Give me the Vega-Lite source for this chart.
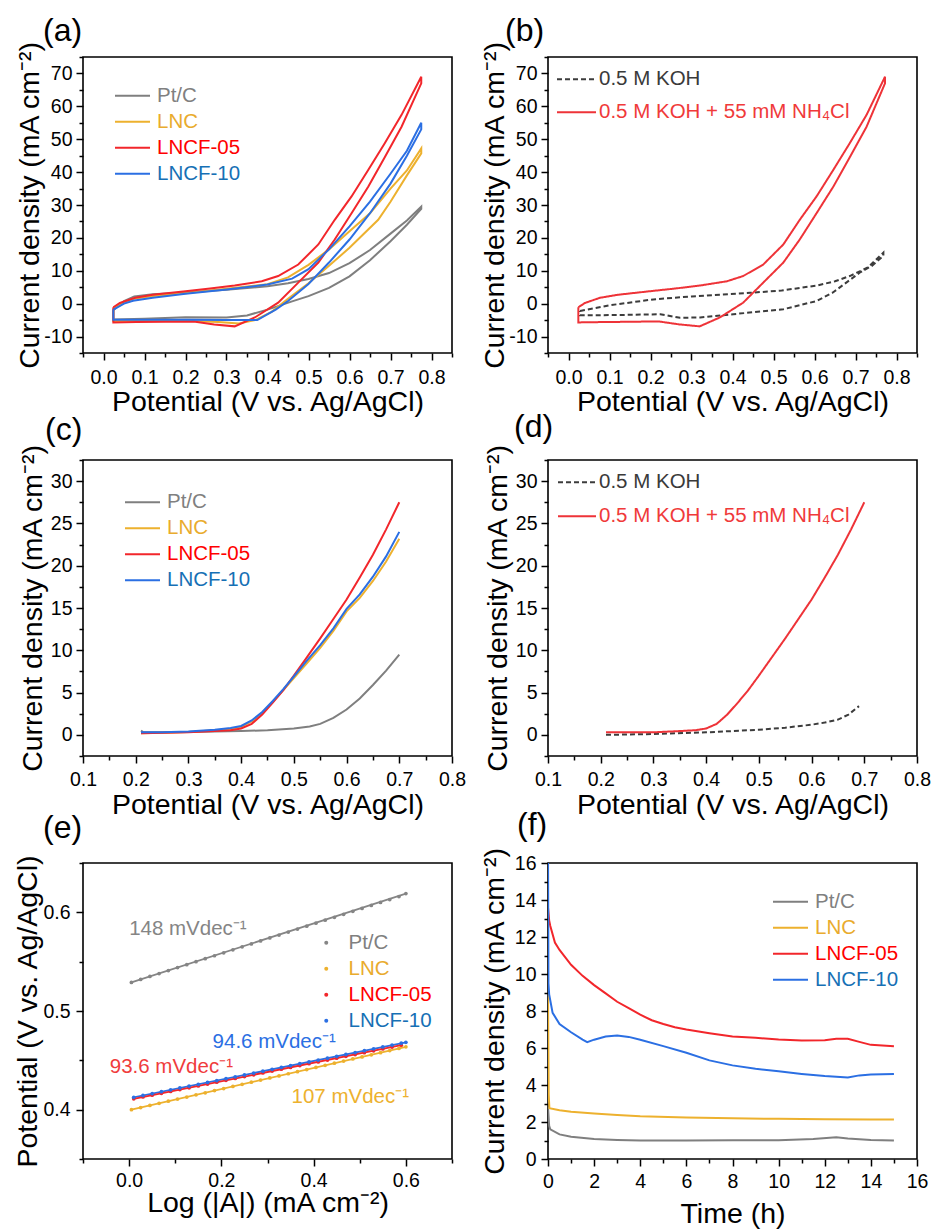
{
  "$schema": "https://vega.github.io/schema/vega-lite/v6.json",
  "autosize": {"type": "none"},
  "padding": {"left": 83, "top": 57, "right": 850, "bottom": 1175},
  "background": "white",
  "config": {
    "font": "Liberation Sans",
    "view": {"stroke": "black", "strokeWidth": 1.6},
    "axis": {"domain": false, "grid": false, "labelFont": "Liberation Sans", "labelFontSize": 19.5, "labelColor": "black", "titleFont": "Liberation Sans", "titleFontSize": 28.5, "titleFontWeight": "normal", "titleColor": "black", "tickColor": "black", "tickWidth": 1.5, "labelFlush": false, "labelOverlap": false, "labelBound": false},
    "axisX": {"labelBaseline": "alphabetic", "titleBaseline": "alphabetic"},
    "axisY": {"titleBaseline": "alphabetic"},
    "legend": {"labelFont": "Liberation Sans", "labelFontSize": 20.5, "padding": 0, "labelLimit": 400, "symbolStrokeWidth": 2, "orient": "none", "titlePadding": 0},
    "title": {"font": "Liberation Sans", "fontSize": 32, "fontWeight": "normal", "anchor": "start", "frame": "group", "baseline": "alphabetic", "color": "black"},
    "line": {"strokeWidth": 2}
  },
  "datasets": {
    "cvA": [
      {"s":"Pt/C","i":0,"x":0.024,"y":-2.0},{"s":"Pt/C","i":1,"x":0.05,"y":0.8},{"s":"Pt/C","i":2,"x":0.075,"y":2.2},{"s":"Pt/C","i":3,"x":0.12,"y":2.9},{"s":"Pt/C","i":4,"x":0.2,"y":3.4},{"s":"Pt/C","i":5,"x":0.3,"y":4.2},{"s":"Pt/C","i":6,"x":0.4,"y":5.3},{"s":"Pt/C","i":7,"x":0.45,"y":6.2},{"s":"Pt/C","i":8,"x":0.5,"y":7.5},{"s":"Pt/C","i":9,"x":0.55,"y":9.3},{"s":"Pt/C","i":10,"x":0.6,"y":12.3},{"s":"Pt/C","i":11,"x":0.65,"y":16.3},{"s":"Pt/C","i":12,"x":0.7,"y":21.3},{"s":"Pt/C","i":13,"x":0.74,"y":25.3},{"s":"Pt/C","i":14,"x":0.775,"y":29.5},
      {"s":"Pt/C","i":15,"x":0.775,"y":28.8},{"s":"Pt/C","i":16,"x":0.74,"y":24.0},{"s":"Pt/C","i":17,"x":0.7,"y":19.0},{"s":"Pt/C","i":18,"x":0.65,"y":13.2},{"s":"Pt/C","i":19,"x":0.6,"y":8.3},{"s":"Pt/C","i":20,"x":0.55,"y":4.8},{"s":"Pt/C","i":21,"x":0.5,"y":2.3},{"s":"Pt/C","i":22,"x":0.46,"y":0.7},{"s":"Pt/C","i":23,"x":0.4,"y":-1.8},{"s":"Pt/C","i":24,"x":0.35,"y":-3.6},{"s":"Pt/C","i":25,"x":0.3,"y":-4.2},{"s":"Pt/C","i":26,"x":0.2,"y":-4.1},{"s":"Pt/C","i":27,"x":0.1,"y":-4.6},{"s":"Pt/C","i":28,"x":0.024,"y":-4.8},{"s":"Pt/C","i":29,"x":0.024,"y":-2.0},
      {"s":"LNC","i":0,"x":0.024,"y":-1.5},{"s":"LNC","i":1,"x":0.05,"y":0.5},{"s":"LNC","i":2,"x":0.075,"y":1.5},{"s":"LNC","i":3,"x":0.12,"y":2.3},{"s":"LNC","i":4,"x":0.2,"y":3.2},{"s":"LNC","i":5,"x":0.3,"y":4.5},{"s":"LNC","i":6,"x":0.4,"y":5.9},{"s":"LNC","i":7,"x":0.45,"y":8.0},{"s":"LNC","i":8,"x":0.5,"y":11.8},{"s":"LNC","i":9,"x":0.55,"y":16.5},{"s":"LNC","i":10,"x":0.6,"y":22.0},{"s":"LNC","i":11,"x":0.65,"y":27.5},{"s":"LNC","i":12,"x":0.7,"y":35.0},{"s":"LNC","i":13,"x":0.74,"y":40.5},{"s":"LNC","i":14,"x":0.775,"y":47.2},
      {"s":"LNC","i":15,"x":0.775,"y":45.7},{"s":"LNC","i":16,"x":0.74,"y":39.0},{"s":"LNC","i":17,"x":0.7,"y":31.0},{"s":"LNC","i":18,"x":0.67,"y":25.5},{"s":"LNC","i":19,"x":0.6,"y":17.0},{"s":"LNC","i":20,"x":0.55,"y":11.5},{"s":"LNC","i":21,"x":0.5,"y":6.2},{"s":"LNC","i":22,"x":0.45,"y":1.5},{"s":"LNC","i":23,"x":0.41,"y":-2.5},{"s":"LNC","i":24,"x":0.37,"y":-5.0},{"s":"LNC","i":25,"x":0.33,"y":-6.0},{"s":"LNC","i":26,"x":0.28,"y":-5.6},{"s":"LNC","i":27,"x":0.2,"y":-5.2},{"s":"LNC","i":28,"x":0.1,"y":-5.2},{"s":"LNC","i":29,"x":0.024,"y":-5.3},{"s":"LNC","i":30,"x":0.024,"y":-1.5},
      {"s":"LNCF-05","i":0,"x":0.024,"y":-1.1},{"s":"LNCF-05","i":1,"x":0.04,"y":0.2},{"s":"LNCF-05","i":2,"x":0.077,"y":1.8},{"s":"LNCF-05","i":3,"x":0.12,"y":2.7},{"s":"LNCF-05","i":4,"x":0.2,"y":3.8},{"s":"LNCF-05","i":5,"x":0.26,"y":4.6},{"s":"LNCF-05","i":6,"x":0.32,"y":5.5},{"s":"LNCF-05","i":7,"x":0.386,"y":6.8},{"s":"LNCF-05","i":8,"x":0.426,"y":8.4},{"s":"LNCF-05","i":9,"x":0.475,"y":11.9},{"s":"LNCF-05","i":10,"x":0.524,"y":18.0},{"s":"LNCF-05","i":11,"x":0.564,"y":25.5},{"s":"LNCF-05","i":12,"x":0.605,"y":32.6},{"s":"LNCF-05","i":13,"x":0.646,"y":40.7},{"s":"LNCF-05","i":14,"x":0.686,"y":48.8},{"s":"LNCF-05","i":15,"x":0.727,"y":57.4},{"s":"LNCF-05","i":16,"x":0.775,"y":69.0},
      {"s":"LNCF-05","i":17,"x":0.775,"y":67.0},{"s":"LNCF-05","i":18,"x":0.727,"y":53.8},{"s":"LNCF-05","i":19,"x":0.686,"y":44.5},{"s":"LNCF-05","i":20,"x":0.646,"y":35.6},{"s":"LNCF-05","i":21,"x":0.605,"y":27.5},{"s":"LNCF-05","i":22,"x":0.564,"y":19.5},{"s":"LNCF-05","i":23,"x":0.524,"y":12.5},{"s":"LNCF-05","i":24,"x":0.475,"y":6.4},{"s":"LNCF-05","i":25,"x":0.426,"y":0.3},{"s":"LNCF-05","i":26,"x":0.369,"y":-4.2},{"s":"LNCF-05","i":27,"x":0.32,"y":-6.9},{"s":"LNCF-05","i":28,"x":0.27,"y":-6.3},{"s":"LNCF-05","i":29,"x":0.22,"y":-5.4},{"s":"LNCF-05","i":30,"x":0.15,"y":-5.5},{"s":"LNCF-05","i":31,"x":0.08,"y":-5.6},{"s":"LNCF-05","i":32,"x":0.024,"y":-5.7},{"s":"LNCF-05","i":33,"x":0.024,"y":-1.1},
      {"s":"LNCF-10","i":0,"x":0.024,"y":-1.8},{"s":"LNCF-10","i":1,"x":0.05,"y":0.0},{"s":"LNCF-10","i":2,"x":0.072,"y":0.9},{"s":"LNCF-10","i":3,"x":0.12,"y":1.8},{"s":"LNCF-10","i":4,"x":0.2,"y":3.0},{"s":"LNCF-10","i":5,"x":0.3,"y":4.3},{"s":"LNCF-10","i":6,"x":0.4,"y":5.8},{"s":"LNCF-10","i":7,"x":0.46,"y":7.6},{"s":"LNCF-10","i":8,"x":0.5,"y":10.5},{"s":"LNCF-10","i":9,"x":0.55,"y":16.5},{"s":"LNCF-10","i":10,"x":0.6,"y":23.5},{"s":"LNCF-10","i":11,"x":0.65,"y":31.0},{"s":"LNCF-10","i":12,"x":0.7,"y":39.5},{"s":"LNCF-10","i":13,"x":0.74,"y":46.5},{"s":"LNCF-10","i":14,"x":0.775,"y":55.0},
      {"s":"LNCF-10","i":15,"x":0.775,"y":53.0},{"s":"LNCF-10","i":16,"x":0.74,"y":45.0},{"s":"LNCF-10","i":17,"x":0.7,"y":36.5},{"s":"LNCF-10","i":18,"x":0.65,"y":27.5},{"s":"LNCF-10","i":19,"x":0.6,"y":19.5},{"s":"LNCF-10","i":20,"x":0.55,"y":12.5},{"s":"LNCF-10","i":21,"x":0.5,"y":6.0},{"s":"LNCF-10","i":22,"x":0.45,"y":0.8},{"s":"LNCF-10","i":23,"x":0.42,"y":-1.8},{"s":"LNCF-10","i":24,"x":0.375,"y":-5.0},{"s":"LNCF-10","i":25,"x":0.3,"y":-5.0},{"s":"LNCF-10","i":26,"x":0.2,"y":-4.9},{"s":"LNCF-10","i":27,"x":0.1,"y":-4.9},{"s":"LNCF-10","i":28,"x":0.024,"y":-4.9},{"s":"LNCF-10","i":29,"x":0.024,"y":-1.8}
    ],
    "cvB": [
      {"s":"0.5 M KOH","i":0,"x":0.028,"y":-2.2},{"s":"0.5 M KOH","i":1,"x":0.1,"y":-0.5},{"s":"0.5 M KOH","i":2,"x":0.207,"y":1.3},{"s":"0.5 M KOH","i":3,"x":0.3,"y":2.2},{"s":"0.5 M KOH","i":4,"x":0.443,"y":3.3},{"s":"0.5 M KOH","i":5,"x":0.52,"y":4.0},{"s":"0.5 M KOH","i":6,"x":0.605,"y":5.5},{"s":"0.5 M KOH","i":7,"x":0.65,"y":6.8},{"s":"0.5 M KOH","i":8,"x":0.686,"y":8.4},{"s":"0.5 M KOH","i":9,"x":0.73,"y":11.0},{"s":"0.5 M KOH","i":10,"x":0.768,"y":15.5},
      {"s":"0.5 M KOH","i":11,"x":0.768,"y":14.5},{"s":"0.5 M KOH","i":12,"x":0.74,"y":11.5},{"s":"0.5 M KOH","i":13,"x":0.71,"y":9.4},{"s":"0.5 M KOH","i":14,"x":0.645,"y":3.4},{"s":"0.5 M KOH","i":15,"x":0.605,"y":0.8},{"s":"0.5 M KOH","i":16,"x":0.524,"y":-1.7},{"s":"0.5 M KOH","i":17,"x":0.402,"y":-3.2},{"s":"0.5 M KOH","i":18,"x":0.321,"y":-4.2},{"s":"0.5 M KOH","i":19,"x":0.272,"y":-4.3},{"s":"0.5 M KOH","i":20,"x":0.224,"y":-3.2},{"s":"0.5 M KOH","i":21,"x":0.15,"y":-3.4},{"s":"0.5 M KOH","i":22,"x":0.077,"y":-3.5},{"s":"0.5 M KOH","i":23,"x":0.028,"y":-3.5},{"s":"0.5 M KOH","i":24,"x":0.028,"y":-2.2},
      {"s":"0.5 M KOH + 55 mM NH₄Cl","i":0,"x":0.024,"y":-1.1},{"s":"0.5 M KOH + 55 mM NH₄Cl","i":1,"x":0.04,"y":0.2},{"s":"0.5 M KOH + 55 mM NH₄Cl","i":2,"x":0.077,"y":1.8},{"s":"0.5 M KOH + 55 mM NH₄Cl","i":3,"x":0.12,"y":2.7},{"s":"0.5 M KOH + 55 mM NH₄Cl","i":4,"x":0.2,"y":3.8},{"s":"0.5 M KOH + 55 mM NH₄Cl","i":5,"x":0.26,"y":4.6},{"s":"0.5 M KOH + 55 mM NH₄Cl","i":6,"x":0.32,"y":5.5},{"s":"0.5 M KOH + 55 mM NH₄Cl","i":7,"x":0.386,"y":6.8},{"s":"0.5 M KOH + 55 mM NH₄Cl","i":8,"x":0.426,"y":8.4},{"s":"0.5 M KOH + 55 mM NH₄Cl","i":9,"x":0.475,"y":11.9},{"s":"0.5 M KOH + 55 mM NH₄Cl","i":10,"x":0.524,"y":18.0},{"s":"0.5 M KOH + 55 mM NH₄Cl","i":11,"x":0.564,"y":25.5},{"s":"0.5 M KOH + 55 mM NH₄Cl","i":12,"x":0.605,"y":32.6},{"s":"0.5 M KOH + 55 mM NH₄Cl","i":13,"x":0.646,"y":40.7},{"s":"0.5 M KOH + 55 mM NH₄Cl","i":14,"x":0.686,"y":48.8},{"s":"0.5 M KOH + 55 mM NH₄Cl","i":15,"x":0.727,"y":57.4},{"s":"0.5 M KOH + 55 mM NH₄Cl","i":16,"x":0.772,"y":69.0},
      {"s":"0.5 M KOH + 55 mM NH₄Cl","i":17,"x":0.772,"y":67.0},{"s":"0.5 M KOH + 55 mM NH₄Cl","i":18,"x":0.727,"y":53.8},{"s":"0.5 M KOH + 55 mM NH₄Cl","i":19,"x":0.686,"y":44.5},{"s":"0.5 M KOH + 55 mM NH₄Cl","i":20,"x":0.646,"y":35.6},{"s":"0.5 M KOH + 55 mM NH₄Cl","i":21,"x":0.605,"y":27.5},{"s":"0.5 M KOH + 55 mM NH₄Cl","i":22,"x":0.564,"y":19.5},{"s":"0.5 M KOH + 55 mM NH₄Cl","i":23,"x":0.524,"y":12.5},{"s":"0.5 M KOH + 55 mM NH₄Cl","i":24,"x":0.475,"y":6.4},{"s":"0.5 M KOH + 55 mM NH₄Cl","i":25,"x":0.426,"y":0.3},{"s":"0.5 M KOH + 55 mM NH₄Cl","i":26,"x":0.369,"y":-4.2},{"s":"0.5 M KOH + 55 mM NH₄Cl","i":27,"x":0.32,"y":-6.9},{"s":"0.5 M KOH + 55 mM NH₄Cl","i":28,"x":0.27,"y":-6.3},{"s":"0.5 M KOH + 55 mM NH₄Cl","i":29,"x":0.22,"y":-5.4},{"s":"0.5 M KOH + 55 mM NH₄Cl","i":30,"x":0.15,"y":-5.5},{"s":"0.5 M KOH + 55 mM NH₄Cl","i":31,"x":0.08,"y":-5.6},{"s":"0.5 M KOH + 55 mM NH₄Cl","i":32,"x":0.024,"y":-5.7},{"s":"0.5 M KOH + 55 mM NH₄Cl","i":33,"x":0.024,"y":-1.1}
    ],
    "lsvC": [
      {"s":"Pt/C","x":0.21,"y":0.5},{"s":"Pt/C","x":0.215,"y":0.3},{"s":"Pt/C","x":0.25,"y":0.3},{"s":"Pt/C","x":0.3,"y":0.35},{"s":"Pt/C","x":0.35,"y":0.4},{"s":"Pt/C","x":0.4,"y":0.45},{"s":"Pt/C","x":0.45,"y":0.55},{"s":"Pt/C","x":0.5,"y":0.75},{"s":"Pt/C","x":0.53,"y":1.0},{"s":"Pt/C","x":0.55,"y":1.3},{"s":"Pt/C","x":0.575,"y":2.0},{"s":"Pt/C","x":0.6,"y":3.0},{"s":"Pt/C","x":0.625,"y":4.3},{"s":"Pt/C","x":0.65,"y":5.9},{"s":"Pt/C","x":0.675,"y":7.6},{"s":"Pt/C","x":0.7,"y":9.5},
      {"s":"LNC","x":0.21,"y":0.2},{"s":"LNC","x":0.25,"y":0.25},{"s":"LNC","x":0.3,"y":0.35},{"s":"LNC","x":0.35,"y":0.55},{"s":"LNC","x":0.38,"y":0.7},{"s":"LNC","x":0.4,"y":0.95},{"s":"LNC","x":0.42,"y":1.6},{"s":"LNC","x":0.44,"y":2.6},{"s":"LNC","x":0.46,"y":3.9},{"s":"LNC","x":0.48,"y":5.3},{"s":"LNC","x":0.5,"y":6.7},{"s":"LNC","x":0.525,"y":8.5},{"s":"LNC","x":0.55,"y":10.3},{"s":"LNC","x":0.575,"y":12.3},{"s":"LNC","x":0.6,"y":14.6},{"s":"LNC","x":0.625,"y":16.2},{"s":"LNC","x":0.65,"y":18.2},{"s":"LNC","x":0.675,"y":20.5},{"s":"LNC","x":0.7,"y":23.2},
      {"s":"LNCF-05","x":0.21,"y":0.2},{"s":"LNCF-05","x":0.3,"y":0.3},{"s":"LNCF-05","x":0.35,"y":0.45},{"s":"LNCF-05","x":0.38,"y":0.55},{"s":"LNCF-05","x":0.4,"y":0.75},{"s":"LNCF-05","x":0.42,"y":1.3},{"s":"LNCF-05","x":0.44,"y":2.4},{"s":"LNCF-05","x":0.46,"y":3.8},{"s":"LNCF-05","x":0.48,"y":5.3},{"s":"LNCF-05","x":0.5,"y":7.0},{"s":"LNCF-05","x":0.525,"y":9.2},{"s":"LNCF-05","x":0.55,"y":11.4},{"s":"LNCF-05","x":0.575,"y":13.7},{"s":"LNCF-05","x":0.6,"y":16.0},{"s":"LNCF-05","x":0.625,"y":18.6},{"s":"LNCF-05","x":0.65,"y":21.3},{"s":"LNCF-05","x":0.675,"y":24.3},{"s":"LNCF-05","x":0.7,"y":27.5},
      {"s":"LNCF-10","x":0.21,"y":0.3},{"s":"LNCF-10","x":0.25,"y":0.3},{"s":"LNCF-10","x":0.3,"y":0.4},{"s":"LNCF-10","x":0.35,"y":0.6},{"s":"LNCF-10","x":0.38,"y":0.8},{"s":"LNCF-10","x":0.4,"y":1.05},{"s":"LNCF-10","x":0.42,"y":1.7},{"s":"LNCF-10","x":0.44,"y":2.7},{"s":"LNCF-10","x":0.46,"y":4.0},{"s":"LNCF-10","x":0.48,"y":5.4},{"s":"LNCF-10","x":0.5,"y":6.9},{"s":"LNCF-10","x":0.525,"y":8.8},{"s":"LNCF-10","x":0.55,"y":10.6},{"s":"LNCF-10","x":0.575,"y":12.6},{"s":"LNCF-10","x":0.6,"y":14.9},{"s":"LNCF-10","x":0.625,"y":16.6},{"s":"LNCF-10","x":0.65,"y":18.7},{"s":"LNCF-10","x":0.675,"y":21.1},{"s":"LNCF-10","x":0.7,"y":24.0}
    ],
    "lsvD": [
      {"s":"0.5 M KOH","x":0.21,"y":0.0},{"s":"0.5 M KOH","x":0.3,"y":0.1},{"s":"0.5 M KOH","x":0.4,"y":0.3},{"s":"0.5 M KOH","x":0.45,"y":0.45},{"s":"0.5 M KOH","x":0.5,"y":0.6},{"s":"0.5 M KOH","x":0.55,"y":0.85},{"s":"0.5 M KOH","x":0.6,"y":1.2},{"s":"0.5 M KOH","x":0.625,"y":1.45},{"s":"0.5 M KOH","x":0.65,"y":1.8},{"s":"0.5 M KOH","x":0.67,"y":2.4},{"s":"0.5 M KOH","x":0.69,"y":3.4},
      {"s":"0.5 M KOH + 55 mM NH₄Cl","x":0.21,"y":0.3},{"s":"0.5 M KOH + 55 mM NH₄Cl","x":0.3,"y":0.3},{"s":"0.5 M KOH + 55 mM NH₄Cl","x":0.35,"y":0.45},{"s":"0.5 M KOH + 55 mM NH₄Cl","x":0.38,"y":0.55},{"s":"0.5 M KOH + 55 mM NH₄Cl","x":0.4,"y":0.75},{"s":"0.5 M KOH + 55 mM NH₄Cl","x":0.42,"y":1.3},{"s":"0.5 M KOH + 55 mM NH₄Cl","x":0.44,"y":2.4},{"s":"0.5 M KOH + 55 mM NH₄Cl","x":0.46,"y":3.8},{"s":"0.5 M KOH + 55 mM NH₄Cl","x":0.48,"y":5.3},{"s":"0.5 M KOH + 55 mM NH₄Cl","x":0.5,"y":7.0},{"s":"0.5 M KOH + 55 mM NH₄Cl","x":0.525,"y":9.2},{"s":"0.5 M KOH + 55 mM NH₄Cl","x":0.55,"y":11.4},{"s":"0.5 M KOH + 55 mM NH₄Cl","x":0.575,"y":13.7},{"s":"0.5 M KOH + 55 mM NH₄Cl","x":0.6,"y":16.0},{"s":"0.5 M KOH + 55 mM NH₄Cl","x":0.625,"y":18.6},{"s":"0.5 M KOH + 55 mM NH₄Cl","x":0.65,"y":21.3},{"s":"0.5 M KOH + 55 mM NH₄Cl","x":0.675,"y":24.3},{"s":"0.5 M KOH + 55 mM NH₄Cl","x":0.7,"y":27.5}
    ],
    "tafelFit": [
      {"s":"Pt/C","x":0.005,"y":0.529},{"s":"Pt/C","x":0.6,"y":0.619},
      {"s":"LNC","x":0.005,"y":0.400},{"s":"LNC","x":0.6,"y":0.4637},
      {"s":"LNCF-10","x":0.01,"y":0.4125},{"s":"LNCF-10","x":0.6,"y":0.4683},
      {"s":"LNCF-05","x":0.01,"y":0.411},{"s":"LNCF-05","x":0.59,"y":0.4653}
    ],
    "tafelPts": [
      {"s":"Pt/C","x":0.005,"y":0.529},{"s":"Pt/C","x":0.025,"y":0.532},{"s":"Pt/C","x":0.045,"y":0.535},{"s":"Pt/C","x":0.065,"y":0.538},{"s":"Pt/C","x":0.085,"y":0.541},{"s":"Pt/C","x":0.105,"y":0.544},{"s":"Pt/C","x":0.125,"y":0.547},{"s":"Pt/C","x":0.145,"y":0.550},{"s":"Pt/C","x":0.165,"y":0.553},{"s":"Pt/C","x":0.185,"y":0.556},{"s":"Pt/C","x":0.205,"y":0.559},{"s":"Pt/C","x":0.225,"y":0.562},{"s":"Pt/C","x":0.245,"y":0.565},{"s":"Pt/C","x":0.265,"y":0.568},{"s":"Pt/C","x":0.285,"y":0.571},{"s":"Pt/C","x":0.305,"y":0.574},{"s":"Pt/C","x":0.325,"y":0.577},{"s":"Pt/C","x":0.345,"y":0.580},{"s":"Pt/C","x":0.365,"y":0.583},{"s":"Pt/C","x":0.385,"y":0.586},{"s":"Pt/C","x":0.405,"y":0.589},{"s":"Pt/C","x":0.425,"y":0.592},{"s":"Pt/C","x":0.445,"y":0.595},{"s":"Pt/C","x":0.465,"y":0.598},{"s":"Pt/C","x":0.485,"y":0.601},{"s":"Pt/C","x":0.505,"y":0.604},{"s":"Pt/C","x":0.525,"y":0.607},{"s":"Pt/C","x":0.545,"y":0.610},{"s":"Pt/C","x":0.565,"y":0.613},{"s":"Pt/C","x":0.585,"y":0.616},{"s":"Pt/C","x":0.6,"y":0.619},
      {"s":"LNC","x":0.005,"y":0.4000},{"s":"LNC","x":0.025,"y":0.4021},{"s":"LNC","x":0.045,"y":0.4043},{"s":"LNC","x":0.065,"y":0.4064},{"s":"LNC","x":0.085,"y":0.4086},{"s":"LNC","x":0.105,"y":0.4107},{"s":"LNC","x":0.125,"y":0.4128},{"s":"LNC","x":0.145,"y":0.4150},{"s":"LNC","x":0.165,"y":0.4171},{"s":"LNC","x":0.185,"y":0.4193},{"s":"LNC","x":0.205,"y":0.4214},{"s":"LNC","x":0.225,"y":0.4235},{"s":"LNC","x":0.245,"y":0.4257},{"s":"LNC","x":0.265,"y":0.4278},{"s":"LNC","x":0.285,"y":0.4300},{"s":"LNC","x":0.305,"y":0.4321},{"s":"LNC","x":0.325,"y":0.4342},{"s":"LNC","x":0.345,"y":0.4364},{"s":"LNC","x":0.365,"y":0.4385},{"s":"LNC","x":0.385,"y":0.4407},{"s":"LNC","x":0.405,"y":0.4428},{"s":"LNC","x":0.425,"y":0.4449},{"s":"LNC","x":0.445,"y":0.4471},{"s":"LNC","x":0.465,"y":0.4492},{"s":"LNC","x":0.485,"y":0.4514},{"s":"LNC","x":0.505,"y":0.4535},{"s":"LNC","x":0.525,"y":0.4556},{"s":"LNC","x":0.545,"y":0.4578},{"s":"LNC","x":0.565,"y":0.4599},{"s":"LNC","x":0.585,"y":0.4621},{"s":"LNC","x":0.6,"y":0.4637},
      {"s":"LNCF-05","x":0.01,"y":0.4110},{"s":"LNCF-05","x":0.03,"y":0.4129},{"s":"LNCF-05","x":0.05,"y":0.4147},{"s":"LNCF-05","x":0.07,"y":0.4166},{"s":"LNCF-05","x":0.09,"y":0.4185},{"s":"LNCF-05","x":0.11,"y":0.4204},{"s":"LNCF-05","x":0.13,"y":0.4222},{"s":"LNCF-05","x":0.15,"y":0.4241},{"s":"LNCF-05","x":0.17,"y":0.4260},{"s":"LNCF-05","x":0.19,"y":0.4278},{"s":"LNCF-05","x":0.21,"y":0.4297},{"s":"LNCF-05","x":0.23,"y":0.4316},{"s":"LNCF-05","x":0.25,"y":0.4335},{"s":"LNCF-05","x":0.27,"y":0.4353},{"s":"LNCF-05","x":0.29,"y":0.4372},{"s":"LNCF-05","x":0.31,"y":0.4391},{"s":"LNCF-05","x":0.33,"y":0.4410},{"s":"LNCF-05","x":0.35,"y":0.4428},{"s":"LNCF-05","x":0.37,"y":0.4447},{"s":"LNCF-05","x":0.39,"y":0.4466},{"s":"LNCF-05","x":0.41,"y":0.4484},{"s":"LNCF-05","x":0.43,"y":0.4503},{"s":"LNCF-05","x":0.45,"y":0.4522},{"s":"LNCF-05","x":0.47,"y":0.4541},{"s":"LNCF-05","x":0.49,"y":0.4559},{"s":"LNCF-05","x":0.51,"y":0.4578},{"s":"LNCF-05","x":0.53,"y":0.4597},{"s":"LNCF-05","x":0.55,"y":0.4615},{"s":"LNCF-05","x":0.57,"y":0.4634},{"s":"LNCF-05","x":0.59,"y":0.4653},
      {"s":"LNCF-10","x":0.01,"y":0.4125},{"s":"LNCF-10","x":0.03,"y":0.4144},{"s":"LNCF-10","x":0.05,"y":0.4163},{"s":"LNCF-10","x":0.07,"y":0.4182},{"s":"LNCF-10","x":0.09,"y":0.4201},{"s":"LNCF-10","x":0.11,"y":0.4220},{"s":"LNCF-10","x":0.13,"y":0.4239},{"s":"LNCF-10","x":0.15,"y":0.4257},{"s":"LNCF-10","x":0.17,"y":0.4276},{"s":"LNCF-10","x":0.19,"y":0.4295},{"s":"LNCF-10","x":0.21,"y":0.4314},{"s":"LNCF-10","x":0.23,"y":0.4333},{"s":"LNCF-10","x":0.25,"y":0.4352},{"s":"LNCF-10","x":0.27,"y":0.4371},{"s":"LNCF-10","x":0.29,"y":0.4390},{"s":"LNCF-10","x":0.31,"y":0.4409},{"s":"LNCF-10","x":0.33,"y":0.4428},{"s":"LNCF-10","x":0.35,"y":0.4447},{"s":"LNCF-10","x":0.37,"y":0.4466},{"s":"LNCF-10","x":0.39,"y":0.4484},{"s":"LNCF-10","x":0.41,"y":0.4503},{"s":"LNCF-10","x":0.43,"y":0.4522},{"s":"LNCF-10","x":0.45,"y":0.4541},{"s":"LNCF-10","x":0.47,"y":0.4560},{"s":"LNCF-10","x":0.49,"y":0.4579},{"s":"LNCF-10","x":0.51,"y":0.4598},{"s":"LNCF-10","x":0.53,"y":0.4617},{"s":"LNCF-10","x":0.55,"y":0.4636},{"s":"LNCF-10","x":0.57,"y":0.4655},{"s":"LNCF-10","x":0.59,"y":0.4674},{"s":"LNCF-10","x":0.6,"y":0.4683}
    ],
    "tafelAnn": [
      {"s":"Pt/C","x":0.0,"y":0.5835,"t":"148 mVdec⁻¹"},
      {"s":"LNCF-10","x":0.181,"y":0.4684,"t":"94.6 mVdec⁻¹"},
      {"s":"LNCF-05","x":-0.042,"y":0.4431,"t":"93.6 mVdec⁻¹"},
      {"s":"LNC","x":0.352,"y":0.4128,"t":"107 mVdec⁻¹"}
    ],
    "chronoF": [
      {"s":"Pt/C","x":0,"y":2.8},{"s":"Pt/C","x":0.05,"y":1.8},{"s":"Pt/C","x":0.1,"y":1.6},{"s":"Pt/C","x":0.5,"y":1.33},{"s":"Pt/C","x":1,"y":1.2},{"s":"Pt/C","x":2,"y":1.08},{"s":"Pt/C","x":3,"y":1.03},{"s":"Pt/C","x":4,"y":1.0},{"s":"Pt/C","x":6,"y":1.0},{"s":"Pt/C","x":8,"y":1.02},{"s":"Pt/C","x":10,"y":1.02},{"s":"Pt/C","x":11.5,"y":1.08},{"s":"Pt/C","x":12.5,"y":1.17},{"s":"Pt/C","x":13,"y":1.11},{"s":"Pt/C","x":14,"y":1.03},{"s":"Pt/C","x":15,"y":1.0},
      {"s":"LNC","x":0,"y":9.0},{"s":"LNC","x":0.03,"y":3.5},{"s":"LNC","x":0.06,"y":2.75},{"s":"LNC","x":0.5,"y":2.64},{"s":"LNC","x":1,"y":2.55},{"s":"LNC","x":2,"y":2.46},{"s":"LNC","x":3,"y":2.38},{"s":"LNC","x":4,"y":2.31},{"s":"LNC","x":6,"y":2.24},{"s":"LNC","x":8,"y":2.2},{"s":"LNC","x":10,"y":2.17},{"s":"LNC","x":12,"y":2.15},{"s":"LNC","x":14,"y":2.14},{"s":"LNC","x":15,"y":2.13},
      {"s":"LNCF-05","x":0,"y":13.6},{"s":"LNCF-05","x":0.05,"y":12.9},{"s":"LNCF-05","x":0.1,"y":12.6},{"s":"LNCF-05","x":0.3,"y":11.7},{"s":"LNCF-05","x":0.5,"y":11.3},{"s":"LNCF-05","x":1,"y":10.5},{"s":"LNCF-05","x":1.5,"y":9.9},{"s":"LNCF-05","x":2,"y":9.4},{"s":"LNCF-05","x":2.5,"y":8.95},{"s":"LNCF-05","x":3,"y":8.5},{"s":"LNCF-05","x":3.5,"y":8.15},{"s":"LNCF-05","x":4,"y":7.8},{"s":"LNCF-05","x":4.5,"y":7.5},{"s":"LNCF-05","x":5,"y":7.3},{"s":"LNCF-05","x":5.5,"y":7.12},{"s":"LNCF-05","x":6,"y":7.0},{"s":"LNCF-05","x":7,"y":6.8},{"s":"LNCF-05","x":8,"y":6.62},{"s":"LNCF-05","x":9,"y":6.55},{"s":"LNCF-05","x":10,"y":6.46},{"s":"LNCF-05","x":11,"y":6.4},{"s":"LNCF-05","x":12,"y":6.42},{"s":"LNCF-05","x":12.5,"y":6.5},{"s":"LNCF-05","x":13,"y":6.5},{"s":"LNCF-05","x":13.5,"y":6.33},{"s":"LNCF-05","x":14,"y":6.17},{"s":"LNCF-05","x":15,"y":6.1},
      {"s":"LNCF-10","x":0,"y":17},{"s":"LNCF-10","x":0.02,"y":9.5},{"s":"LNCF-10","x":0.05,"y":8.9},{"s":"LNCF-10","x":0.2,"y":7.9},{"s":"LNCF-10","x":0.5,"y":7.3},{"s":"LNCF-10","x":1,"y":6.85},{"s":"LNCF-10","x":1.5,"y":6.45},{"s":"LNCF-10","x":1.7,"y":6.32},{"s":"LNCF-10","x":2,"y":6.45},{"s":"LNCF-10","x":2.5,"y":6.62},{"s":"LNCF-10","x":3,"y":6.67},{"s":"LNCF-10","x":3.5,"y":6.6},{"s":"LNCF-10","x":4,"y":6.45},{"s":"LNCF-10","x":5,"y":6.1},{"s":"LNCF-10","x":6,"y":5.74},{"s":"LNCF-10","x":7,"y":5.33},{"s":"LNCF-10","x":8,"y":5.06},{"s":"LNCF-10","x":9,"y":4.88},{"s":"LNCF-10","x":10,"y":4.74},{"s":"LNCF-10","x":11,"y":4.6},{"s":"LNCF-10","x":12,"y":4.48},{"s":"LNCF-10","x":13,"y":4.4},{"s":"LNCF-10","x":13.5,"y":4.52},{"s":"LNCF-10","x":14,"y":4.57},{"s":"LNCF-10","x":15,"y":4.6}
    ]
  },
  "columns": 2,
  "spacing": {"row": 107, "column": 96},
  "bounds": "flush",
  "resolve": {"scale": {"color": "independent", "strokeDash": "independent", "x": "independent", "y": "independent"}, "legend": {"color": "independent", "strokeDash": "independent"}},
  "concat": [
    {
      "width": 369, "height": 296,
      "title": {"text": "(a)", "dx": -40, "offset": -7},
      "data": {"name": "cvA"},
      "mark": {"type": "line", "strokeWidth": 2, "clip": true},
      "encoding": {
        "x": {"field": "x", "type": "quantitative", "title": "Potential (V vs. Ag/AgCl)", "scale": {"domain": [-0.05, 0.85], "nice": false, "zero": false},
          "axis": {"values": [-0.05,0,0.05,0.1,0.15,0.2,0.25,0.3,0.35,0.4,0.45,0.5,0.55,0.6,0.65,0.7,0.75,0.8,0.85], "labelExpr": "abs(datum.value*10-round(datum.value*10))<0.001 ? format(datum.value,'.1f') : ''", "tickSize": {"condition": {"test": "abs(datum.value*10-round(datum.value*10))<0.001", "value": 7}, "value": 4}, "labelPadding": 23, "titleY": 57}},
        "y": {"field": "y", "type": "quantitative", "title": "Current density (mA cm⁻²)", "scale": {"domain": [-15, 75], "nice": false, "zero": false},
          "axis": {"values": [-15,-10,-5,0,5,10,15,20,25,30,35,40,45,50,55,60,65,70,75], "labelExpr": "datum.value % 10 == 0 ? '' + datum.value : ''", "tickSize": {"condition": {"test": "datum.value % 10 == 0", "value": 7}, "value": 4}, "labelPadding": 4, "titleX": -45}},
        "color": {"field": "s", "type": "nominal", "scale": {"domain": ["Pt/C", "LNC", "LNCF-05", "LNCF-10"], "range": ["#7F7F7F", "#EDB12E", "#F2262B", "#2B6FE3"]},
          "legend": {"title": null, "legendX": 31, "legendY": 25.9, "symbolSize": 1225, "labelOffset": 6, "rowPadding": 0, "clipHeight": 25.6,
            "labelColor": {"expr": "datum.value == 'Pt/C' ? '#808080' : datum.value == 'LNC' ? '#E9AB2D' : datum.value == 'LNCF-05' ? '#FF0000' : '#1670B5'"}}},
        "order": {"field": "i", "type": "quantitative"}
      }
    },
    {
      "width": 369, "height": 296,
      "title": {"text": "(b)", "dx": -43, "offset": -7},
      "data": {"name": "cvB"},
      "mark": {"type": "line", "strokeWidth": 2, "clip": true},
      "encoding": {
        "x": {"field": "x", "type": "quantitative", "title": "Potential (V vs. Ag/AgCl)", "scale": {"domain": [-0.05, 0.85], "nice": false, "zero": false},
          "axis": {"values": [-0.05,0,0.05,0.1,0.15,0.2,0.25,0.3,0.35,0.4,0.45,0.5,0.55,0.6,0.65,0.7,0.75,0.8,0.85], "labelExpr": "abs(datum.value*10-round(datum.value*10))<0.001 ? format(datum.value,'.1f') : ''", "tickSize": {"condition": {"test": "abs(datum.value*10-round(datum.value*10))<0.001", "value": 7}, "value": 4}, "labelPadding": 23, "titleY": 57}},
        "y": {"field": "y", "type": "quantitative", "title": "Current density (mA cm⁻²)", "scale": {"domain": [-15, 75], "nice": false, "zero": false},
          "axis": {"values": [-15,-10,-5,0,5,10,15,20,25,30,35,40,45,50,55,60,65,70,75], "labelExpr": "datum.value % 10 == 0 ? '' + datum.value : ''", "tickSize": {"condition": {"test": "datum.value % 10 == 0", "value": 7}, "value": 4}, "labelPadding": 4, "titleX": -45}},
        "color": {"field": "s", "type": "nominal", "scale": {"domain": ["0.5 M KOH", "0.5 M KOH + 55 mM NH₄Cl"], "range": ["#3C3C3C", "#EE3338"]},
          "legend": {"title": null, "legendX": 8, "legendY": 5.8, "symbolSize": 1521, "labelOffset": 2, "rowPadding": 0, "clipHeight": 33,
            "labelColor": {"expr": "datum.value == '0.5 M KOH' ? '#3A3A3A' : '#F03A3A'"}}},
        "strokeDash": {"field": "s", "type": "nominal", "scale": {"domain": ["0.5 M KOH", "0.5 M KOH + 55 mM NH₄Cl"], "range": [[5, 3], [1, 0]]},
          "legend": {"title": null, "legendX": 8, "legendY": 5.8, "symbolSize": 1521, "labelOffset": 2, "rowPadding": 0, "clipHeight": 33,
            "labelColor": {"expr": "datum.value == '0.5 M KOH' ? '#3A3A3A' : '#F03A3A'"}}},
        "order": {"field": "i", "type": "quantitative"}
      }
    },
    {
      "width": 369, "height": 296,
      "title": {"text": "(c)", "dx": -38, "offset": -3},
      "data": {"name": "lsvC"},
      "mark": {"type": "line", "strokeWidth": 2, "clip": true},
      "encoding": {
        "x": {"field": "x", "type": "quantitative", "title": "Potential (V vs. Ag/AgCl)", "scale": {"domain": [0.1, 0.8], "nice": false, "zero": false},
          "axis": {"values": [0.1,0.15,0.2,0.25,0.3,0.35,0.4,0.45,0.5,0.55,0.6,0.65,0.7,0.75,0.8], "labelExpr": "abs(datum.value*10-round(datum.value*10))<0.001 ? format(datum.value,'.1f') : ''", "tickSize": {"condition": {"test": "abs(datum.value*10-round(datum.value*10))<0.001", "value": 7}, "value": 4}, "labelPadding": 22, "titleY": 57}},
        "y": {"field": "y", "type": "quantitative", "title": "Current density (mA cm⁻²)", "scale": {"domain": [-2.5, 32.5], "nice": false, "zero": false},
          "axis": {"values": [-2.5,0,2.5,5,7.5,10,12.5,15,17.5,20,22.5,25,27.5,30,32.5], "labelExpr": "datum.value % 5 == 0 ? '' + datum.value : ''", "tickSize": {"condition": {"test": "datum.value % 5 == 0", "value": 7}, "value": 4}, "labelPadding": 4, "titleX": -42}},
        "color": {"field": "s", "type": "nominal", "scale": {"domain": ["Pt/C", "LNC", "LNCF-05", "LNCF-10"], "range": ["#7F7F7F", "#EDB12E", "#F2262B", "#2B6FE3"]},
          "legend": {"title": null, "legendX": 41, "legendY": 29.4, "symbolSize": 1225, "labelOffset": 6, "rowPadding": 0, "clipHeight": 25.9,
            "labelColor": {"expr": "datum.value == 'Pt/C' ? '#808080' : datum.value == 'LNC' ? '#E9AB2D' : datum.value == 'LNCF-05' ? '#FF0000' : '#1670B5'"}}},
        "order": {"field": "x", "type": "quantitative"}
      }
    },
    {
      "width": 369, "height": 296,
      "title": {"text": "(d)", "dx": -34, "offset": 0},
      "data": {"name": "lsvD"},
      "mark": {"type": "line", "strokeWidth": 2, "clip": true},
      "encoding": {
        "x": {"field": "x", "type": "quantitative", "title": "Potential (V vs. Ag/AgCl)", "scale": {"domain": [0.1, 0.8], "nice": false, "zero": false},
          "axis": {"values": [0.1,0.15,0.2,0.25,0.3,0.35,0.4,0.45,0.5,0.55,0.6,0.65,0.7,0.75,0.8], "labelExpr": "abs(datum.value*10-round(datum.value*10))<0.001 ? format(datum.value,'.1f') : ''", "tickSize": {"condition": {"test": "abs(datum.value*10-round(datum.value*10))<0.001", "value": 7}, "value": 4}, "labelPadding": 22, "titleY": 57}},
        "y": {"field": "y", "type": "quantitative", "title": "Current density (mA cm⁻²)", "scale": {"domain": [-2.5, 32.5], "nice": false, "zero": false},
          "axis": {"values": [-2.5,0,2.5,5,7.5,10,12.5,15,17.5,20,22.5,25,27.5,30,32.5], "labelExpr": "datum.value % 5 == 0 ? '' + datum.value : ''", "tickSize": {"condition": {"test": "datum.value % 5 == 0", "value": 7}, "value": 4}, "labelPadding": 4, "titleX": -42}},
        "color": {"field": "s", "type": "nominal", "scale": {"domain": ["0.5 M KOH", "0.5 M KOH + 55 mM NH₄Cl"], "range": ["#3C3C3C", "#EE3338"]},
          "legend": {"title": null, "legendX": 9, "legendY": 5.5, "symbolSize": 1444, "labelOffset": 2, "rowPadding": 0, "clipHeight": 33.3,
            "labelColor": {"expr": "datum.value == '0.5 M KOH' ? '#3A3A3A' : '#F03A3A'"}}},
        "strokeDash": {"field": "s", "type": "nominal", "scale": {"domain": ["0.5 M KOH", "0.5 M KOH + 55 mM NH₄Cl"], "range": [[5, 3], [1, 0]]},
          "legend": {"title": null, "legendX": 9, "legendY": 5.5, "symbolSize": 1444, "labelOffset": 2, "rowPadding": 0, "clipHeight": 33.3,
            "labelColor": {"expr": "datum.value == '0.5 M KOH' ? '#3A3A3A' : '#F03A3A'"}}},
        "order": {"field": "x", "type": "quantitative"}
      }
    },
    {
      "width": 369, "height": 296,
      "title": {"text": "(e)", "dx": -40, "offset": 8.5},
      "resolve": {"scale": {"color": "independent"}, "legend": {"color": "independent"}},
      "encoding": {
        "x": {"field": "x", "type": "quantitative", "title": "Log (|A|) (mA cm⁻²)", "scale": {"domain": [-0.1, 0.7], "nice": false, "zero": false},
          "axis": {"values": [-0.1,0,0.1,0.2,0.3,0.4,0.5,0.6,0.7], "labelExpr": "abs(datum.value*5-round(datum.value*5))<0.001 ? format(datum.value,'.1f') : ''", "tickSize": {"condition": {"test": "abs(datum.value*5-round(datum.value*5))<0.001", "value": 7}, "value": 4}, "labelPadding": 20, "titleY": 52}},
        "y": {"field": "y", "type": "quantitative", "title": "Potential (V vs. Ag/AgCl)", "scale": {"domain": [0.35, 0.65], "nice": false, "zero": false},
          "axis": {"values": [0.35,0.4,0.45,0.5,0.55,0.6,0.65], "labelExpr": "abs(datum.value*10-round(datum.value*10))<0.001 ? format(datum.value,'.1f') : ''", "tickSize": {"condition": {"test": "abs(datum.value*10-round(datum.value*10))<0.001", "value": 7}, "value": 4}, "labelPadding": 6, "titleX": -47}}
      },
      "layer": [
        {
          "data": {"name": "tafelFit"},
          "mark": {"type": "line", "strokeWidth": 1.8},
          "encoding": {
            "color": {"field": "s", "type": "nominal", "scale": {"domain": ["Pt/C", "LNC", "LNCF-05", "LNCF-10"], "range": ["#858585", "#EDB12E", "#F2262B", "#2B6FE3"]}, "legend": null}
          }
        },
        {
          "data": {"name": "tafelPts"},
          "mark": {"type": "point", "filled": true, "size": 14, "opacity": 1},
          "encoding": {
            "color": {"field": "s", "type": "nominal", "scale": {"domain": ["Pt/C", "LNC", "LNCF-05", "LNCF-10"], "range": ["#858585", "#EDB12E", "#F2262B", "#2B6FE3"]},
              "legend": {"title": null, "legendX": 233, "legendY": 66.9, "symbolType": "circle", "symbolSize": 16, "labelOffset": 12, "rowPadding": 0, "clipHeight": 25.6,
                "labelColor": {"expr": "datum.value == 'Pt/C' ? '#808080' : datum.value == 'LNC' ? '#E9AB2D' : datum.value == 'LNCF-05' ? '#FF0000' : '#1670B5'"}}}
          }
        },
        {
          "data": {"name": "tafelAnn"},
          "mark": {"type": "text", "align": "left", "baseline": "middle", "fontSize": 20.5, "font": "Liberation Sans"},
          "encoding": {
            "text": {"field": "t"},
            "color": {"field": "s", "type": "nominal", "scale": {"domain": ["Pt/C", "LNC", "LNCF-05", "LNCF-10"], "range": ["#858585", "#EDB12E", "#F03C3C", "#2B6FE3"]}, "legend": null}
          }
        }
      ]
    },
    {
      "width": 369, "height": 296,
      "title": {"text": "(f)", "dx": -31, "offset": 5},
      "data": {"name": "chronoF"},
      "mark": {"type": "line", "strokeWidth": 2, "clip": true},
      "encoding": {
        "x": {"field": "x", "type": "quantitative", "title": "Time (h)", "scale": {"domain": [0, 16], "nice": false, "zero": false},
          "axis": {"values": [0,1,2,3,4,5,6,7,8,9,10,11,12,13,14,15,16], "labelExpr": "datum.value % 2 == 0 ? '' + datum.value : ''", "tickSize": {"condition": {"test": "datum.value % 2 == 0", "value": 7}, "value": 4}, "labelPadding": 21, "titleY": 63}},
        "y": {"field": "y", "type": "quantitative", "title": "Current density (mA cm⁻²)", "scale": {"domain": [0, 16], "nice": false, "zero": false},
          "axis": {"values": [0,1,2,3,4,5,6,7,8,9,10,11,12,13,14,15,16], "labelExpr": "datum.value % 2 == 0 ? '' + datum.value : ''", "tickSize": {"condition": {"test": "datum.value % 2 == 0", "value": 7}, "value": 4}, "labelPadding": 5, "titleX": -45}},
        "color": {"field": "s", "type": "nominal", "scale": {"domain": ["Pt/C", "LNC", "LNCF-05", "LNCF-10"], "range": ["#7F7F7F", "#EDB12E", "#F2262B", "#2B6FE3"]},
          "legend": {"title": null, "legendX": 224, "legendY": 25.8, "symbolSize": 1225, "labelOffset": 6, "rowPadding": 0, "clipHeight": 25.7,
            "labelColor": {"expr": "datum.value == 'Pt/C' ? '#808080' : datum.value == 'LNC' ? '#E9AB2D' : datum.value == 'LNCF-05' ? '#FF0000' : '#1670B5'"}}},
        "order": {"field": "x", "type": "quantitative"}
      }
    }
  ]
}
